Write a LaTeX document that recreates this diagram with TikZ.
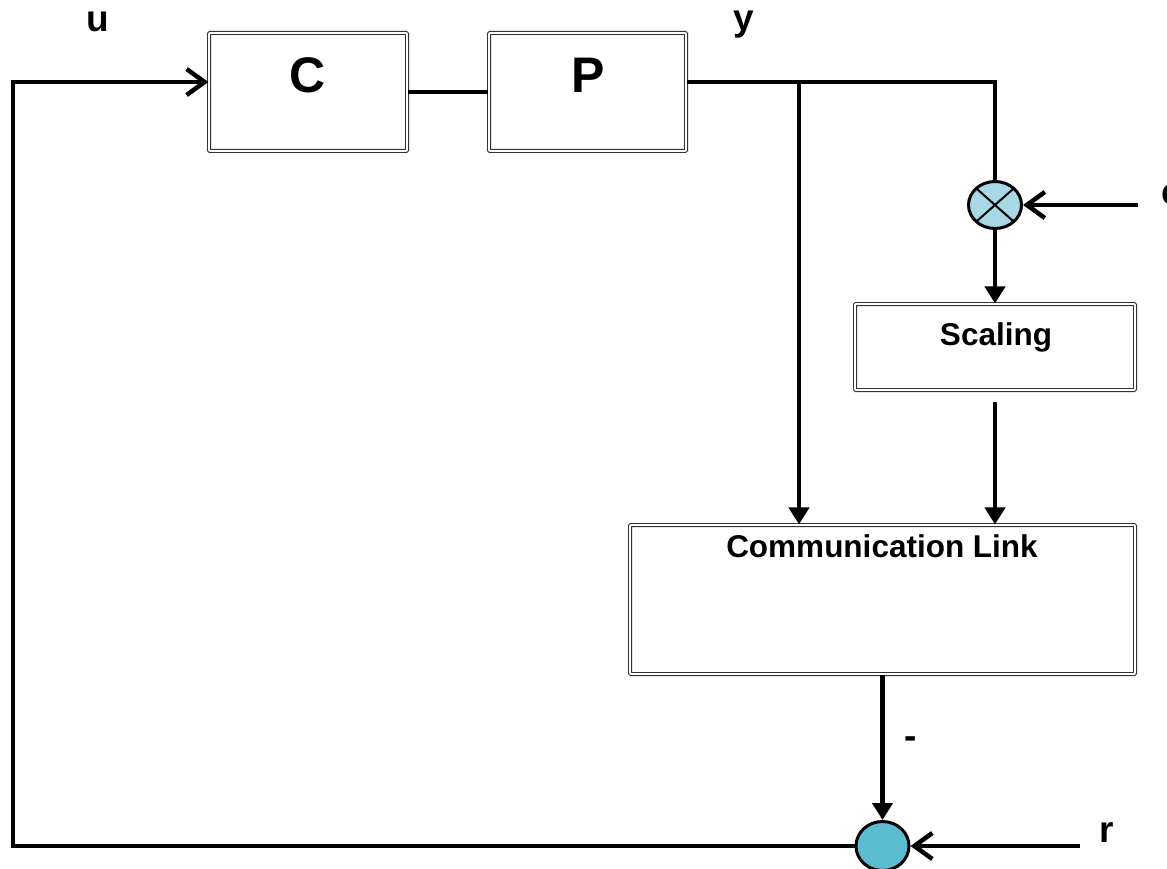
\documentclass[tikz,border=0pt]{standalone}
\usepackage{fontspec}
\setmainfont{Liberation Sans}
\usetikzlibrary{arrows.meta}
\usetikzlibrary{shapes.geometric}
\definecolor{BoxGray}{HTML}{333333}
\definecolor{MultBlue}{HTML}{A8D8E6}
\definecolor{SumBlue}{HTML}{5BBBD1}

\begin{document}
\begin{tikzpicture}[x=1pt, y=-1pt,
  block/.style={draw=BoxGray, line width=1.1pt, double, double distance=1.8pt,
    rounded corners=1pt, inner sep=0pt},
  junction/.style={ellipse, draw, line width=3pt, inner sep=0pt},
  sig/.style={line width=4.5pt},
  barb/.style={-{Straight Barb[length=18pt,width=26pt]}},
  tri/.style={-{Triangle[length=17pt,width=20pt]}},
  bigtxt/.style={font=\bfseries\fontsize{50}{56}\selectfont},
  midtxt/.style={font=\bfseries\fontsize{31.5}{36}\selectfont},
  sigtxt/.style={font=\bfseries\fontsize{37}{40}\selectfont, inner sep=0pt}]

  \clip (0,0) rectangle (1167,869);

  % blocks
  \node[block, minimum width=198, minimum height=118] (C) at (308,92) {};
  \node[bigtxt] (Ctxt) at (308,75) {C};
  \node[block, minimum width=197, minimum height=118] (P) at (587.5,92) {};
  \node[bigtxt] (Ptxt) at (588,75) {P};
  \node[block, minimum width=280, minimum height=86] (scal) at (995,347) {};
  \node[midtxt, anchor=base] (scaltxt) at (996,345) {Scaling};
  \node[block, minimum width=505, minimum height=149] (comm) at (882.5,599.5) {};
  \node[midtxt, anchor=base] (commtxt) at (882,557) {Communication Link};

  % junctions
  \node[junction, fill=MultBlue, minimum width=53, minimum height=47,
    path picture={\draw[line width=2pt]
      (path picture bounding box.south west) -- (path picture bounding box.north east)
      (path picture bounding box.north west) -- (path picture bounding box.south east);}]
    (mult) at (995,205) {};
  \node[junction, fill=SumBlue, minimum width=53, minimum height=49] (sum) at (882.5,846) {};

  \coordinate (fbcorner) at (13,82);
  \coordinate (ytap)     at (799,82);
  \coordinate (ycorner)  at (995,82);
  \coordinate (cin)      at (1138,205);
  \coordinate (rin)      at (1080,846);

  % signals
  \draw[sig, barb] (sum.west) -| (fbcorner) -- (fbcorner -| C.west);
  \draw[sig] (C.east) -- (P.west);
  \draw[sig] (P.east |- ytap) -- (ycorner) -- (mult.north);
  \draw[sig, tri] (ytap) -- (ytap |- comm.north);
  \draw[sig, barb] (cin) -- (mult.east);
  \draw[sig, tri] (mult.south) -- (scal.north);
  \draw[sig, tri] ([yshift=-11pt]scal.south) -- (scal.south |- comm.north);
  \draw[sig, tri] (comm.south) -- (comm.south |- sum.north);
  \draw[sig, barb] (rin) -- (sum.east);

  \node[sigtxt, anchor=base] (ulab) at (98,32) {u};
  \node[sigtxt, anchor=base] (ylab) at (744,31) {y};
  \node[sigtxt, anchor=base west] (clab) at (1161,205) {c};
  \node[sigtxt, anchor=base] (rlab) at (1107,842) {r};
  \node[sigtxt] (minus) at (911,743) {-};
\end{tikzpicture}
\end{document}
